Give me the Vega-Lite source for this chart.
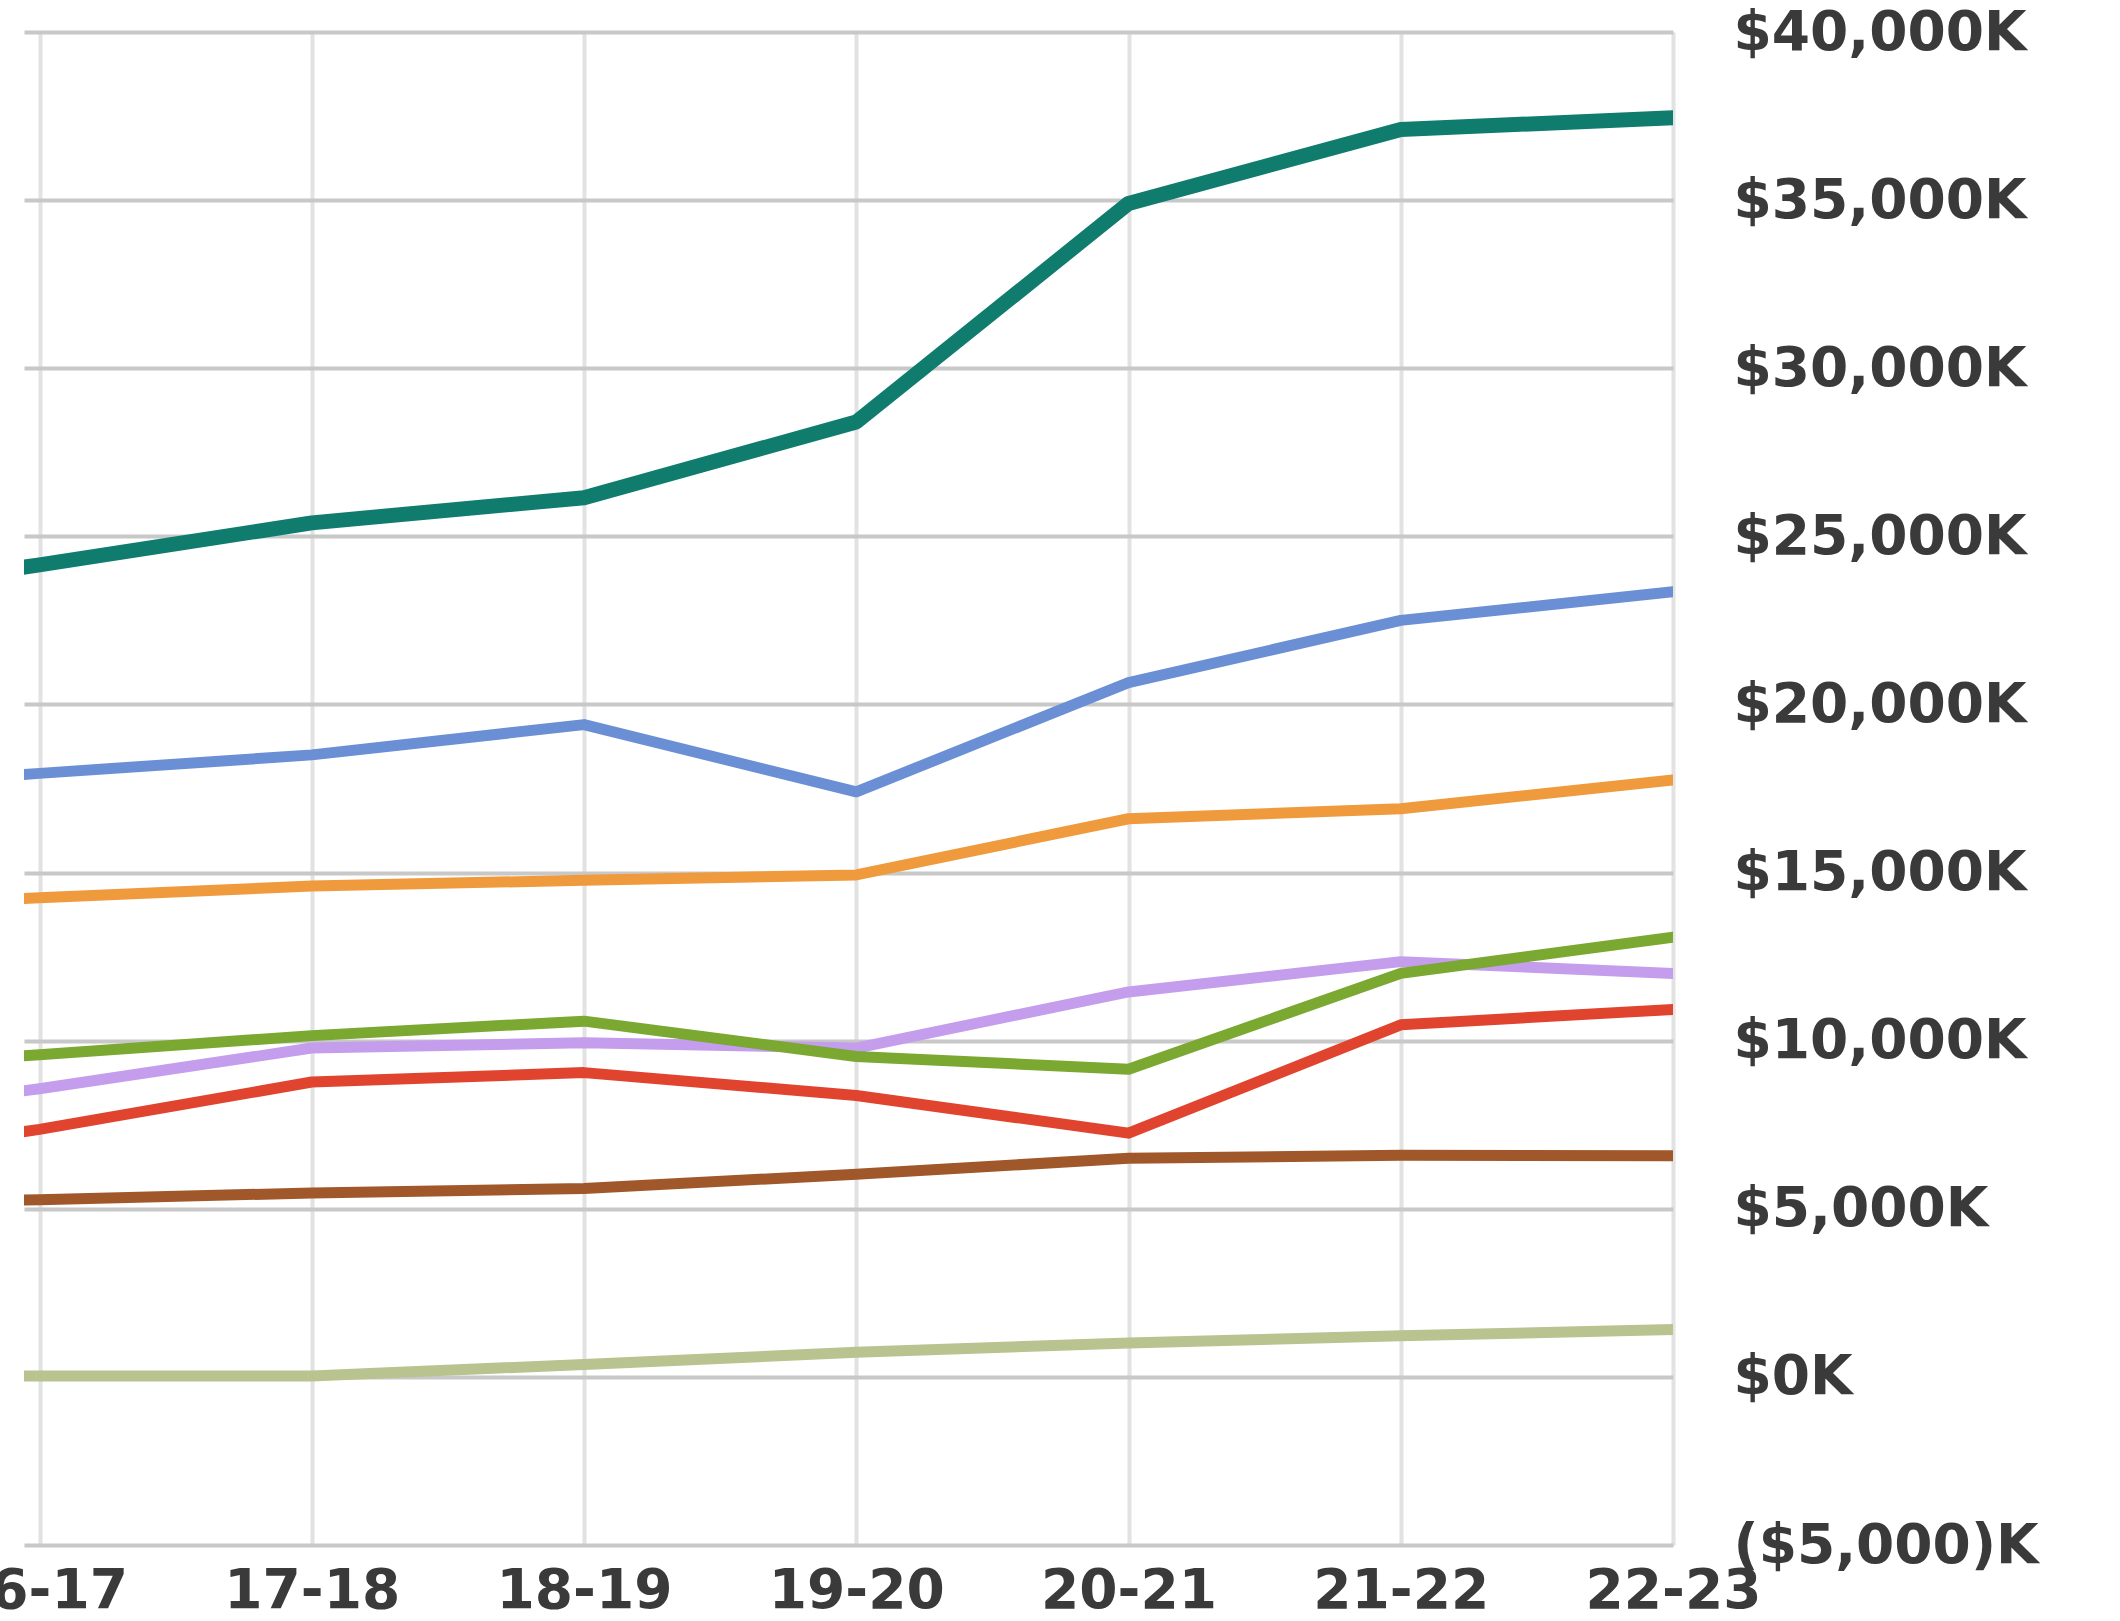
{
  "$schema": "https://vega.github.io/schema/vega-lite/v6.json",
  "width": 1649,
  "height": 1513,
  "autosize": {"type": "none"},
  "padding": {"left": 24, "top": 32, "right": 447, "bottom": 76},
  "background": "white",
  "config": {
    "view": {"stroke": null},
    "axis": {
      "labelFont": "DejaVu Sans",
      "labelFontWeight": "bold",
      "labelFontSize": 55,
      "labelColor": "#3a3a3a",
      "labelLimit": 0,
      "domain": false,
      "ticks": false,
      "tickSize": 0,
      "title": null,
      "labelFlush": false,
      "labelOverlap": false,
      "labelBound": false
    }
  },
  "data": {
    "values": [
      {"series": "olive", "year": "15-16", "start": 15, "value": 0},
      {"series": "olive", "year": "16-17", "start": 16, "value": 30},
      {"series": "olive", "year": "17-18", "start": 17, "value": 30},
      {"series": "olive", "year": "18-19", "start": 18, "value": 370},
      {"series": "olive", "year": "19-20", "start": 19, "value": 730},
      {"series": "olive", "year": "20-21", "start": 20, "value": 1010},
      {"series": "olive", "year": "21-22", "start": 21, "value": 1220},
      {"series": "olive", "year": "22-23", "start": 22, "value": 1410},
      {"series": "brown", "year": "15-16", "start": 15, "value": 5100},
      {"series": "brown", "year": "16-17", "start": 16, "value": 5270},
      {"series": "brown", "year": "17-18", "start": 17, "value": 5470},
      {"series": "brown", "year": "18-19", "start": 18, "value": 5600},
      {"series": "brown", "year": "19-20", "start": 19, "value": 6030},
      {"series": "brown", "year": "20-21", "start": 20, "value": 6500},
      {"series": "brown", "year": "21-22", "start": 21, "value": 6590},
      {"series": "brown", "year": "22-23", "start": 22, "value": 6580},
      {"series": "red", "year": "15-16", "start": 15, "value": 6200},
      {"series": "red", "year": "16-17", "start": 16, "value": 7360},
      {"series": "red", "year": "17-18", "start": 17, "value": 8770},
      {"series": "red", "year": "18-19", "start": 18, "value": 9050},
      {"series": "red", "year": "19-20", "start": 19, "value": 8370},
      {"series": "red", "year": "20-21", "start": 20, "value": 7250},
      {"series": "red", "year": "21-22", "start": 21, "value": 10470},
      {"series": "red", "year": "22-23", "start": 22, "value": 10930},
      {"series": "purple", "year": "15-16", "start": 15, "value": 7500},
      {"series": "purple", "year": "16-17", "start": 16, "value": 8570},
      {"series": "purple", "year": "17-18", "start": 17, "value": 9780},
      {"series": "purple", "year": "18-19", "start": 18, "value": 9940},
      {"series": "purple", "year": "19-20", "start": 19, "value": 9780},
      {"series": "purple", "year": "20-21", "start": 20, "value": 11450},
      {"series": "purple", "year": "21-22", "start": 21, "value": 12350},
      {"series": "purple", "year": "22-23", "start": 22, "value": 12000},
      {"series": "green", "year": "15-16", "start": 15, "value": 9100},
      {"series": "green", "year": "16-17", "start": 16, "value": 9580},
      {"series": "green", "year": "17-18", "start": 17, "value": 10150},
      {"series": "green", "year": "18-19", "start": 18, "value": 10580},
      {"series": "green", "year": "19-20", "start": 19, "value": 9530},
      {"series": "green", "year": "20-21", "start": 20, "value": 9150},
      {"series": "green", "year": "21-22", "start": 21, "value": 12000},
      {"series": "green", "year": "22-23", "start": 22, "value": 13080},
      {"series": "orange", "year": "15-16", "start": 15, "value": 13900},
      {"series": "orange", "year": "16-17", "start": 16, "value": 14250},
      {"series": "orange", "year": "17-18", "start": 17, "value": 14600},
      {"series": "orange", "year": "18-19", "start": 18, "value": 14770},
      {"series": "orange", "year": "19-20", "start": 19, "value": 14930},
      {"series": "orange", "year": "20-21", "start": 20, "value": 16600},
      {"series": "orange", "year": "21-22", "start": 21, "value": 16900},
      {"series": "orange", "year": "22-23", "start": 22, "value": 17750},
      {"series": "blue", "year": "15-16", "start": 15, "value": 17400},
      {"series": "blue", "year": "16-17", "start": 16, "value": 17950},
      {"series": "blue", "year": "17-18", "start": 17, "value": 18500},
      {"series": "blue", "year": "18-19", "start": 18, "value": 19400},
      {"series": "blue", "year": "19-20", "start": 19, "value": 17400},
      {"series": "blue", "year": "20-21", "start": 20, "value": 20650},
      {"series": "blue", "year": "21-22", "start": 21, "value": 22500},
      {"series": "blue", "year": "22-23", "start": 22, "value": 23350},
      {"series": "teal", "year": "15-16", "start": 15, "value": 23000},
      {"series": "teal", "year": "16-17", "start": 16, "value": 24150},
      {"series": "teal", "year": "17-18", "start": 17, "value": 25400},
      {"series": "teal", "year": "18-19", "start": 18, "value": 26150},
      {"series": "teal", "year": "19-20", "start": 19, "value": 28400},
      {"series": "teal", "year": "20-21", "start": 20, "value": 34900},
      {"series": "teal", "year": "21-22", "start": 21, "value": 37100},
      {"series": "teal", "year": "22-23", "start": 22, "value": 37450}
    ]
  },
  "mark": {"type": "line", "clip": true, "strokeCap": "round", "strokeJoin": "round"},
  "encoding": {
    "x": {
      "field": "start",
      "type": "quantitative",
      "scale": {"domain": [15.943, 22], "nice": false, "zero": false},
      "axis": {
        "orient": "bottom",
        "values": [16, 17, 18, 19, 20, 21, 22],
        "labelExpr": "datum.value + '-' + (datum.value + 1)",
        "grid": true,
        "gridColor": "#e2e2e2",
        "gridWidth": 4,
        "labelAlign": "center",
        "labelBaseline": "alphabetic",
        "labelPadding": 62
      }
    },
    "y": {
      "field": "value",
      "type": "quantitative",
      "scale": {"domain": [-5000, 40000], "nice": false, "zero": false},
      "axis": {
        "orient": "right",
        "values": [-5000, 0, 5000, 10000, 15000, 20000, 25000, 30000, 35000, 40000],
        "labelExpr": "datum.value < 0 ? '($' + format(-datum.value, ',') + ')K' : '$' + format(datum.value, ',') + 'K'",
        "grid": true,
        "gridColor": "#c8c8c8",
        "gridWidth": 4,
        "labelAlign": "left",
        "labelBaseline": "middle",
        "labelPadding": 60
      }
    },
    "color": {
      "field": "series",
      "type": "nominal",
      "scale": {
        "domain": ["olive", "brown", "red", "purple", "green", "orange", "blue", "teal"],
        "range": ["#b8c38f", "#a0582b", "#e0442f", "#c59ded", "#7aa831", "#ef9a3d", "#6b8fd4", "#107c6e"]
      },
      "legend": null
    },
    "strokeWidth": {
      "condition": {"test": "datum.series === 'teal'", "value": 15},
      "value": 11
    }
  }
}
